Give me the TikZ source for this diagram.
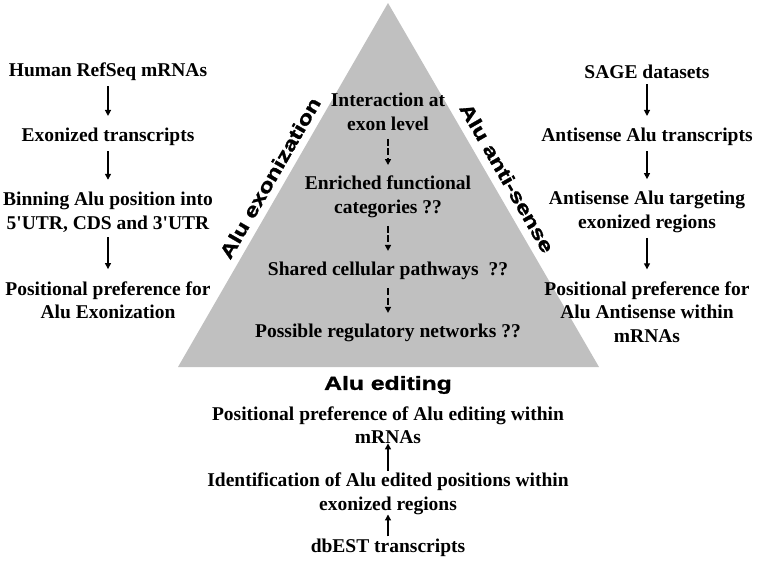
\documentclass[tikz,border=0pt]{standalone}
\usepackage{fontspec}
\setmainfont{Liberation Serif}[Ligatures=TeXOff]
\newfontfamily\sidefont[UprightFont={* Bold},BoldFont={* Bold},FakeStretch=1.3,FakeBold=1.4]{Liberation Sans}
\usetikzlibrary{arrows.meta}
\definecolor{trigray}{RGB}{192,192,192}

\tikzset{
  txt/.style={font=\bfseries\fontsize{19.5}{23.5}\selectfont, align=center, inner sep=1pt},
  side/.style={font=\sidefont\fontsize{19}{20}\selectfont, inner sep=0pt},
  flow/.style={-{Triangle[length=6pt,width=6pt]}, line width=1.2pt, shorten <=4pt, shorten >=11pt},
  dflow/.style={flow, line width=1.6pt, dash pattern=on 7pt off 2.5pt, shorten <=7pt, shorten >=10pt},
  upflow/.style={flow, shorten <=1.5pt, shorten >=-1.5pt}
}

\begin{document}
\begin{tikzpicture}[x=1pt,y=-1pt]
\useasboundingbox (0,0) rectangle (775,560);

%the pyramid
  \fill[trigray] (388,3) -- (178,367) -- (599,367) -- cycle;

%side labels
  \node[side,rotate=60] (lexo) at (270,178) {Alu exonization};
  \node[side,rotate=-60] (lanti) at (507,178) {Alu anti-sense};
  \node[side] (ledit) at (388,385) {Alu editing};

%left column
  \node[txt] (hum) at (108,72) {Human RefSeq mRNAs};
  \node[txt] (exo) at (108,137) {Exonized transcripts};
  \node[txt] (bin) at (108,212) {Binning Alu position into\\5'UTR, CDS and 3'UTR};
  \node[txt] (posexo) at (108,300) {Positional preference for\\Alu Exonization};
  \draw[flow] (hum) -- (exo);
  \draw[flow] (exo) -- (bin);
  \draw[flow] (bin) -- (posexo);

%right column
  \node[txt] (sage) at (647,72) {SAGE datasets};
  \node[txt] (anti) at (647,137) {Antisense Alu transcripts};
  \node[txt] (targ) at (647,212) {Antisense Alu targeting\\exonized regions};
  \node[txt] (posanti) at (647,312) {Positional preference for\\Alu Antisense within\\mRNAs};
  \draw[flow] (sage) -- (anti);
  \draw[flow] (anti) -- (targ);
  \draw[flow] (targ) -- (posanti);

%inside the pyramid
  \node[txt] (inter) at (388,112) {Interaction at\\exon level};
  \node[txt] (enr) at (388,197) {Enriched functional\\categories ??};
  \node[txt] (shar) at (388,271) {Shared cellular pathways \ ??};
  \node[txt] (poss) at (388,333) {Possible regulatory networks ??};
  \draw[dflow] (inter) -- (enr);
  \draw[dflow] (enr) -- (shar);
  \draw[dflow] (shar) -- (poss);

%bottom column
  \node[txt] (edpos) at (388,425) {Positional preference of Alu editing within\\mRNAs};
  \node[txt] (ident) at (388,494) {Identification of Alu edited positions within\\exonized regions};
  \node[txt] (dbest) at (388,548) {dbEST transcripts};
  \draw[upflow] (dbest) -- (ident);
  \draw[upflow] (ident) -- (edpos);

\end{tikzpicture}
\end{document}
